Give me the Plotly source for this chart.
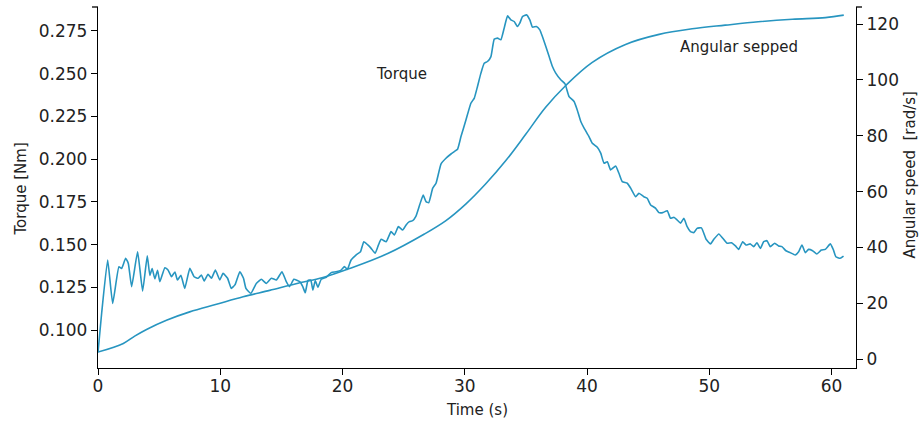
import plotly.graph_objects as go

# ---- data ----
torque_time = [0.0, 0.3, 0.79, 1.2, 1.71, 1.93, 2.26, 2.48, 2.75, 3.24, 3.65, 4.03, 4.24, 4.43, 4.65, 4.87,
               5.06, 5.47, 5.74, 6.01, 6.29, 6.5, 6.78, 7.1, 7.51, 7.86, 8.19, 8.46, 8.68, 9.0, 9.28, 9.6,
               9.96, 10.23, 10.6, 10.9, 11.2, 11.6, 11.9, 12.1, 12.5, 12.95, 13.36, 13.77, 14.18, 14.59,
               15.05, 15.4, 15.67, 16.02, 16.5, 16.75, 16.95, 17.17, 17.4, 17.58, 17.77, 17.99, 18.26,
               18.67, 19.08, 19.48, 19.89, 20.16, 20.4, 20.7, 21.1, 21.47, 21.74, 22.07, 22.34, 22.67,
               22.94, 23.16, 23.57, 23.97, 24.24, 24.57, 24.92, 25.2, 25.47, 25.74, 26.0, 26.3, 26.6,
               26.83, 27.05, 27.38, 27.65, 28.06, 28.46, 28.87, 29.14, 29.41, 29.69, 30.1, 30.5, 30.78,
               31.04, 31.32, 31.59, 31.86, 32.14, 32.41, 32.68, 32.95, 33.22, 33.5, 33.77, 34.04, 34.31,
               34.5, 34.72, 35.05, 35.32, 35.54, 35.86, 36.14, 36.35, 36.63, 36.9, 37.17, 37.44, 37.85,
               38.2, 38.53, 38.94, 39.2, 39.49, 39.76, 40.16, 40.43, 40.84, 41.12, 41.39, 41.66, 41.93,
               42.34, 42.61, 42.88, 43.29, 43.57, 43.98, 44.24, 44.65, 44.92, 45.2, 45.6, 45.88, 46.2,
               46.56, 46.83, 47.1, 47.37, 47.65, 47.92, 48.19, 48.46, 48.73, 49.0, 49.36, 49.74, 50.1,
               50.37, 50.78, 51.1, 51.45, 51.81, 52.14, 52.41, 52.73, 53.0, 53.36, 53.63, 53.9, 54.18,
               54.45, 54.72, 54.99, 55.35, 55.67, 55.94, 56.27, 56.62, 57.03, 57.31, 57.58, 57.85, 58.12,
               58.45, 58.8, 59.16, 59.49, 59.9, 60.16, 60.35, 60.7, 60.98]
torque_nm = [0.087, 0.110, 0.141, 0.1156, 0.137, 0.136, 0.142, 0.139, 0.1254, 0.1458, 0.1228, 0.1435,
             0.132, 0.136, 0.130, 0.135, 0.1283, 0.1365, 0.135, 0.1312, 0.134, 0.1293, 0.132, 0.1244,
             0.1361, 0.1312, 0.1303, 0.1322, 0.1287, 0.1326, 0.1303, 0.1351, 0.1293, 0.1332, 0.1303,
             0.1244, 0.1264, 0.1341, 0.1303, 0.1244, 0.1215, 0.1273, 0.1297, 0.1273, 0.1303, 0.1293,
             0.1341, 0.1283, 0.1254, 0.1297, 0.1283, 0.1254, 0.1218, 0.1289, 0.1293, 0.1234, 0.1289,
             0.125, 0.1297, 0.1309, 0.1336, 0.1341, 0.1351, 0.1371, 0.1355, 0.141, 0.1439, 0.1458,
             0.1517, 0.1498, 0.1478, 0.1449, 0.1498, 0.1531, 0.1517, 0.1576, 0.1556, 0.1605, 0.1585,
             0.1615, 0.1634, 0.1640, 0.1665, 0.1730, 0.179, 0.1751, 0.1745, 0.183, 0.1859, 0.1972,
             0.2005, 0.203, 0.2044, 0.2058, 0.2132, 0.223, 0.2327, 0.2357, 0.2425, 0.2503, 0.2561,
             0.2571, 0.26, 0.2702, 0.2708, 0.2698, 0.2766, 0.2838, 0.2815, 0.2805, 0.2776, 0.2795,
             0.2834, 0.2844, 0.2815, 0.2772, 0.2776, 0.2756, 0.2717, 0.2659, 0.26, 0.2542, 0.2503,
             0.2464, 0.244, 0.2366, 0.2337, 0.2288, 0.222, 0.2181, 0.2132, 0.2093, 0.207, 0.2035,
             0.1976, 0.1985, 0.1937, 0.196, 0.1917, 0.1868, 0.1859, 0.183, 0.178, 0.18, 0.178, 0.1771,
             0.1732, 0.1713, 0.1687, 0.1687, 0.1698, 0.1654, 0.166, 0.1644, 0.1625, 0.1654, 0.1605,
             0.1576, 0.157, 0.1595, 0.1598, 0.1531, 0.1504, 0.1531, 0.1562, 0.1537, 0.1508, 0.1511,
             0.1492, 0.1472, 0.1517, 0.1498, 0.1504, 0.1488, 0.1511, 0.1478, 0.1517, 0.1523, 0.1488,
             0.1508, 0.1492, 0.1488, 0.1464, 0.1453, 0.1439, 0.1458, 0.1498, 0.1453, 0.1472, 0.1464,
             0.1445, 0.1468, 0.1472, 0.1504, 0.1468, 0.1429, 0.142, 0.1433]

speed_time = [0.0, 2.07, 3.0, 3.97, 5.6, 7.5, 9.69, 11.87, 14.04, 16.2, 18.4, 20.57, 23.7, 26.7, 28.46,
              30.1, 31.7, 33.36, 35.0, 36.6, 38.26, 40.4, 43.15, 45.9, 48.6, 51.3, 54.0, 56.8, 59.5, 61.0]
speed_rads = [2.5, 5.6, 8.2, 10.6, 13.9, 16.9, 19.6, 22.3, 24.6, 27.0, 29.2, 32.4, 37.8, 44.8, 49.6,
              55.6, 62.7, 71.1, 80.6, 90.1, 98.0, 106.2, 112.7, 116.3, 118.3, 119.6, 120.8, 121.7, 122.3, 123.2]

x_ticks = [0, 10, 20, 30, 40, 50, 60]
torque_ticks = [0.100, 0.125, 0.150, 0.175, 0.200, 0.225, 0.250, 0.275]
speed_ticks = [0, 20, 40, 60, 80, 100, 120]

LINE = "#2795c0"
TEXT = "#222"
TICKFONT = dict(family="DejaVu Sans", size=17, color=TEXT)
TITLEFONT = dict(family="DejaVu Sans", size=15, color=TEXT)
PLOT_W = 924 - 98 - 68
PLOT_H = 421 - 7 - 53

fig = go.Figure()
fig.add_trace(go.Scatter(x=torque_time, y=torque_nm, mode="lines", name="Torque",
                         line=dict(color=LINE, width=1.6, shape="spline", smoothing=0.4), yaxis="y"))
fig.add_trace(go.Scatter(x=speed_time, y=speed_rads, mode="lines", name="Angular speed",
                         line=dict(color=LINE, width=1.6, shape="spline", smoothing=1.0), yaxis="y2"))

axis_common = dict(showline=True, linecolor="black", linewidth=1.3, ticks="outside", ticklen=6,
                   tickwidth=1.3, tickcolor="black", showgrid=False, zeroline=False, tickfont=TICKFONT,
                   automargin=False)

fig.update_layout(
    width=924, height=421,
    margin=dict(l=98, r=68, t=7, b=53),
    paper_bgcolor="white", plot_bgcolor="white",
    showlegend=False,
    xaxis=dict(range=[0, 62], tickvals=x_ticks, ticklabelstandoff=-4, **axis_common),
    yaxis=dict(range=[0.0778, 0.289], tickvals=torque_ticks, tickformat=".3f", **axis_common),
    yaxis2=dict(range=[-3.2, 126.1], tickvals=speed_ticks, overlaying="y", side="right", **axis_common),
    annotations=[
        dict(x=24.8, y=0.2498, xref="x", yref="y", text="Torque", showarrow=False,
             font=dict(family="DejaVu Sans", size=15, color=TEXT)),
        dict(x=52.4, y=0.2656, xref="x", yref="y", text="Angular sepped", showarrow=False,
             font=dict(family="DejaVu Sans", size=15, color=TEXT)),
        # axis titles
        dict(x=0.5, y=0, xref="paper", yref="paper", xanchor="center", yanchor="middle", yshift=-42,
             text="Time (s)", showarrow=False, font=TITLEFONT),
        dict(x=0, y=0.5, xref="paper", yref="paper", xanchor="center", yanchor="middle",
             xshift=-78, yshift=-2, text="Torque [Nm]", showarrow=False, textangle=-90, font=TITLEFONT),
        dict(x=1, y=0.5, xref="paper", yref="paper", xanchor="center", yanchor="middle",
             xshift=53, yshift=12, text="Angular speed\u00a0\u00a0[rad/s]", showarrow=False,
             textangle=-90, font=TITLEFONT),
    ],
    shapes=[
        dict(type="line", xref="paper", yref="paper", x0=-6/PLOT_W, x1=0, y0=1, y1=1,
             line=dict(color="black", width=1.3)),
        dict(type="line", xref="paper", yref="paper", x0=1, x1=1 + 6/PLOT_W, y0=1, y1=1,
             line=dict(color="black", width=1.3)),
    ],
)

fig.write_html("out.html", config={"displayModeBar": False},
               post_script="document.body.style.margin='0px';")
